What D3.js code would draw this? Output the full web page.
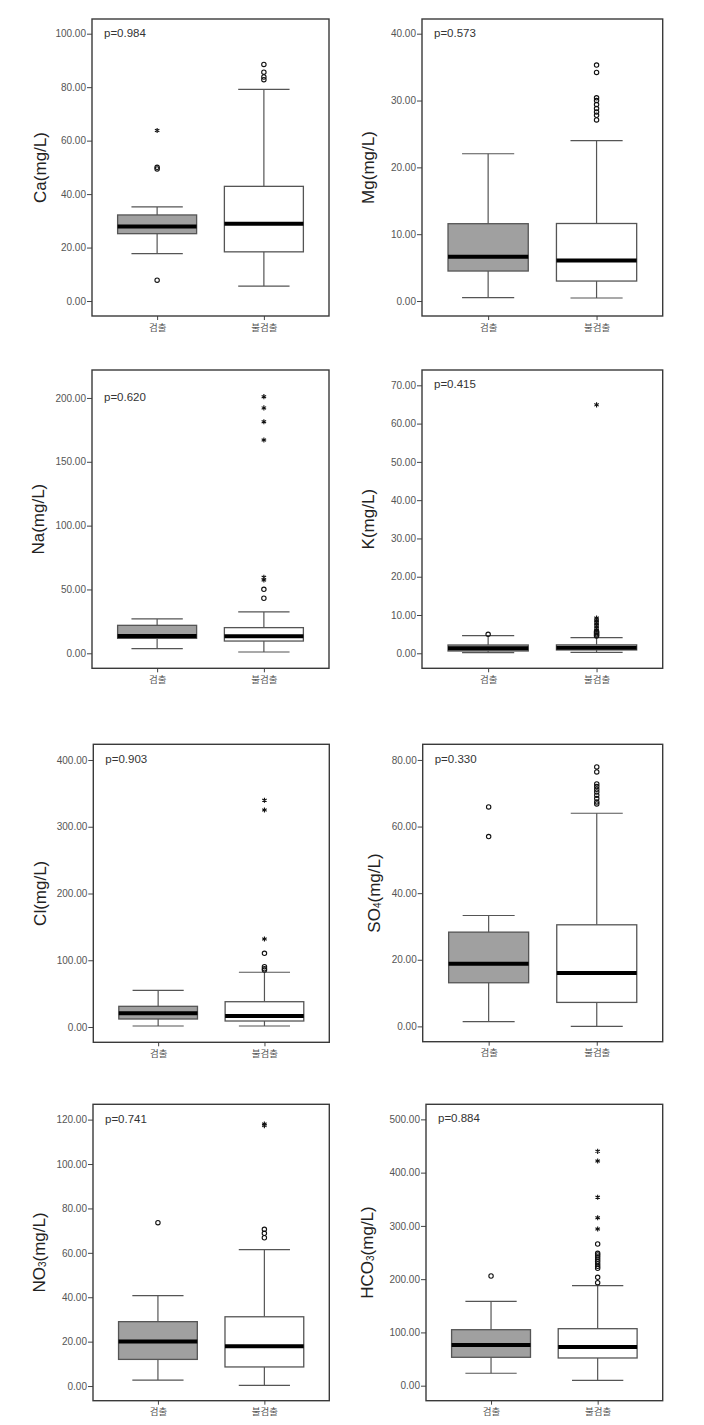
<!DOCTYPE html>
<html><head><meta charset="utf-8">
<script src="https://cdn.jsdelivr.net/npm/d3@7"></script>
<style>body{margin:0;background:#fff} svg{display:block}</style>
</head><body>
<svg id="c" width="704" height="1425"></svg>
<script>
// ---------------- data ----------------
const groups = ["검출", "불검출"];
const ions = ["Ca", "Mg", "Na", "K", "Cl", "SO4", "NO3", "HCO3"];
const pValues = ["0.984", "0.573", "0.620", "0.415", "0.903", "0.330", "0.741", "0.884"];
const yTickMax = [100, 40, 200, 70, 400, 80, 120, 500];
const yTickStep = [20, 10, 50, 10, 100, 20, 20, 100];
const yAxisMin = [-5.6, -2.24, -11.75, -3.92, -22.9, -4.6, -6.6, -28.2];
const yAxisMax = [105.5, 42.2, 221.9, 74.0, 423.5, 84.7, 126.9, 528.3];

// [검출, 불검출] per ion
const whiskerLow  = [[17.7, 5.6], [0.5, 0.45], [3.7, 1.0], [0.2, 0.25], [1.5, 1.5], [1.4, 0.0], [2.7, 0.3], [23.3, 10.1]];
const q1          = [[25.2, 18.4], [4.49, 2.99], [11.7, 9.6], [0.6, 0.87], [12.0, 9.0], [13.1, 7.2], [12.0, 8.6], [53.3, 52.0]];
const median      = [[27.9, 28.9], [6.63, 6.08], [13.5, 13.3], [1.3, 1.47], [20.5, 16.5], [18.8, 16.0], [20.1, 17.9], [76.4, 72.6]];
const q3          = [[32.2, 42.9], [11.57, 11.6], [21.9, 20.1], [2.17, 2.2], [31.0, 37.9], [28.3, 30.5], [29.0, 31.2], [105.1, 107.0]];
const whiskerHigh = [[35.2, 79.2], [22.04, 24.0], [26.9, 32.4], [4.6, 4.1], [55.0, 82.0], [33.3, 64.0], [40.7, 61.4], [158.4, 187.7]];

const mildOutliers = [
  [[7.8, 49.4, 50.0], [82.8, 83.8, 85.6, 88.5]],
  [[], [27.1, 27.8, 28.3, 28.8, 29.4, 30.0, 30.4, 34.2, 35.3]],
  [[], [43.1, 50.1]],
  [[4.96], [4.5, 4.8, 5.1, 5.4, 5.7]],
  [[], [85.4, 87.3, 90.3, 110.4]],
  [[57.0, 65.9], [66.8, 67.4, 68.4, 69.4, 70.4, 71.2, 72.0, 72.8, 76.4, 77.9]],
  [[73.6], [66.8, 68.8, 70.6]],
  [[205.9], [193.4, 203.5, 220.4, 224.0, 228.6, 233.0, 237.5, 241.8, 245.4, 248.5, 266.0]]
];
const extremeOutliers = [
  [[63.8], []],
  [[], []],
  [[], [57.4, 59.5, 167.1, 181.4, 192.2, 201.0]],
  [[], [6.1, 6.5, 6.9, 7.3, 7.7, 8.1, 8.5, 8.9, 9.2, 64.9]],
  [[], [131.8, 325.0, 339.6]],
  [[], []],
  [[], [117.3, 118.0]],
  [[], [294.2, 315.4, 353.7, 421.8, 440.0]]
];

// ---------------- layout ----------------
const frames = [
  {x0: 92,    x1: 329,   y0: 19,    y1: 316},
  {x0: 422,   x1: 662.7, y0: 19,    y1: 316},
  {x0: 92,    x1: 329,   y0: 370,   y1: 668.3},
  {x0: 422,   x1: 662.7, y0: 370,   y1: 668.3},
  {x0: 93.3,  x1: 329.3, y0: 744.3, y1: 1042.3},
  {x0: 422.7, x1: 662.7, y0: 744.3, y1: 1041.7},
  {x0: 93,    x1: 329.3, y0: 1104.3, y1: 1400.7},
  {x0: 426,   x1: 662.7, y0: 1104.3, y1: 1400.7}
];
const labelX = [42, 370, 40, 370, 42, 376, 41, 369];

const FONT = "'Liberation Sans', Arial, sans-serif";
const svg = d3.select("#c");

ions.forEach((ion, i) => {
  const f = frames[i];
  const y = d3.scaleLinear().domain([yAxisMin[i], yAxisMax[i]]).range([f.y1, f.y0]);
  const x = d3.scalePoint().domain(groups).range([f.x0, f.x1]).padding(0.61);
  const bw = x.step() * 0.74;
  const cap = bw * 0.325;
  const g = svg.append("g");

  // y axis
  const ticks = d3.range(0, yTickMax[i] + 1e-9, yTickStep[i]);
  const ya = g.append("g").attr("transform", `translate(${f.x0},0)`)
    .call(d3.axisLeft(y).tickValues(ticks).tickFormat(d3.format(".2f")).tickSize(5).tickPadding(1));
  ya.select(".domain").remove();
  ya.selectAll("line").attr("stroke", "#444").attr("stroke-width", 1);
  ya.selectAll("text").attr("font-family", FONT).attr("font-size", 10).attr("fill", "#555");

  // x axis
  const xa = g.append("g").attr("transform", `translate(0,${f.y1})`)
    .call(d3.axisBottom(x).tickSize(4).tickPadding(4));
  xa.select(".domain").remove();
  xa.selectAll("line").attr("stroke", "#444").attr("stroke-width", 1);
  xa.selectAll("text").attr("font-family", "'Noto Sans CJK KR', sans-serif").attr("font-size", 9.5).attr("fill", "#555");

  // frame
  g.append("rect").attr("x", f.x0).attr("y", f.y0)
    .attr("width", f.x1 - f.x0).attr("height", f.y1 - f.y0)
    .attr("fill", "none").attr("stroke", "#3a3a3a").attr("stroke-width", 1.4);

  // boxes
  groups.forEach((grp, j) => {
    const cx = x(grp);
    const wl = whiskerLow[i][j], a = q1[i][j], m = median[i][j], b = q3[i][j], wh = whiskerHigh[i][j];
    const bg = g.append("g");
    bg.append("line").attr("x1", cx).attr("x2", cx).attr("y1", y(b)).attr("y2", y(wh))
      .attr("stroke", "#555").attr("stroke-width", 1.2);
    bg.append("line").attr("x1", cx).attr("x2", cx).attr("y1", y(a)).attr("y2", y(wl))
      .attr("stroke", "#555").attr("stroke-width", 1.2);
    [wl, wh].forEach(v => bg.append("line").attr("x1", cx - cap).attr("x2", cx + cap)
      .attr("y1", y(v)).attr("y2", y(v)).attr("stroke", "#555").attr("stroke-width", 1.2));
    bg.append("rect").attr("x", cx - bw / 2).attr("y", y(b))
      .attr("width", bw).attr("height", y(a) - y(b))
      .attr("fill", j === 0 ? "#a0a0a0" : "#ffffff")
      .attr("stroke", "#555").attr("stroke-width", 1.3);
    bg.append("line").attr("x1", cx - bw / 2).attr("x2", cx + bw / 2)
      .attr("y1", y(m)).attr("y2", y(m)).attr("stroke", "#000").attr("stroke-width", 4);

    bg.selectAll("circle.o").data(mildOutliers[i][j]).join("circle").attr("class", "o")
      .attr("cx", cx).attr("cy", d => y(d)).attr("r", 2.2)
      .attr("fill", "none").attr("stroke", "#111").attr("stroke-width", 1.1);
    bg.selectAll("path.e").data(extremeOutliers[i][j]).join("path").attr("class", "e")
      .attr("transform", d => `translate(${cx},${y(d)})`)
      .attr("d", d3.symbol(d3.symbolAsterisk, 18))
      .attr("fill", "none").attr("stroke", "#111").attr("stroke-width", 1.1);
  });

  // p label
  g.append("text").attr("x", f.x0 + 12).attr("y", y(yTickMax[i]))
    .attr("dominant-baseline", "middle")
    .attr("font-family", FONT).attr("font-size", 11.5).attr("fill", "#333")
    .text("p=" + pValues[i]);

  // y label
  const cy = (f.y0 + f.y1) / 2;
  const lab = g.append("text")
    .attr("transform", `translate(${labelX[i]},${cy}) rotate(-90)`)
    .attr("text-anchor", "middle").attr("dominant-baseline", "middle")
    .attr("font-family", FONT).attr("font-size", 17).attr("fill", "#222");
  const m = ion.match(/^([A-Za-z]+?)(\d?)$/);
  const base = ion.replace(/\d/g, ""), sub = ion.replace(/\D/g, "");
  lab.append("tspan").text(base);
  if (sub) lab.append("tspan").attr("font-size", 10).attr("dy", 2).text(sub);
  lab.append("tspan").attr("dy", sub ? -2 : 0).text("(mg/L)");
});
</script>
</body></html>
